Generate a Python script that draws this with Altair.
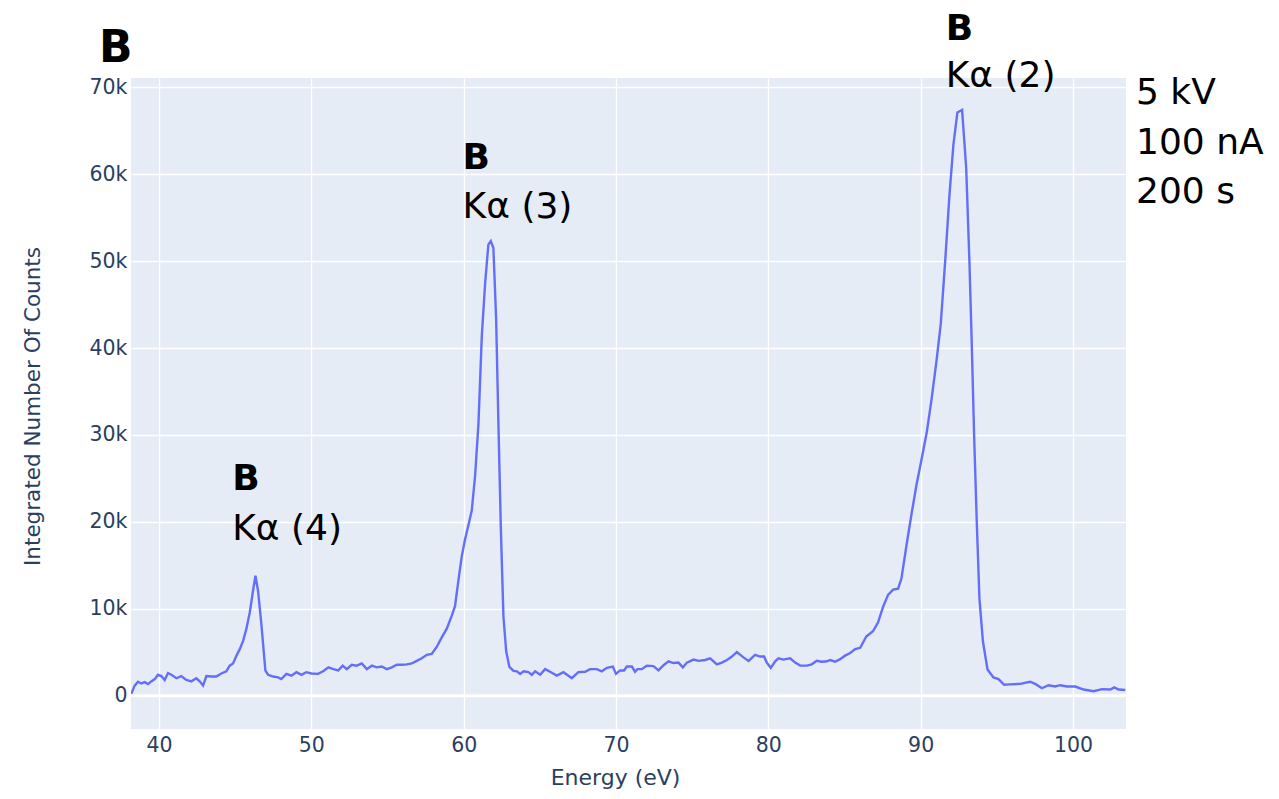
import altair as alt
import pandas as pd

# ---- spectrum values ----
energy = [
    38.18, 38.40, 38.62, 38.84, 39.06, 39.28, 39.49, 39.72, 39.93, 40.15,
    40.37, 40.59, 40.81, 41.14, 41.46, 41.79, 42.12, 42.45, 42.67, 42.89,
    43.11, 43.43, 43.76, 44.09, 44.42, 44.64, 44.86, 45.08, 45.30, 45.52,
    45.73, 45.96, 46.17, 46.33, 46.50, 46.72, 46.98, 47.16, 47.49, 47.82,
    48.03, 48.36, 48.69, 49.02, 49.35, 49.67, 50.00, 50.44, 50.77, 51.12,
    51.44, 51.77, 52.06, 52.32, 52.65, 52.98, 53.31, 53.64, 53.97, 54.29,
    54.62, 54.95, 55.28, 55.61, 55.94, 56.26, 56.59, 56.92, 57.25, 57.58,
    57.90, 58.23, 58.56, 58.89, 59.22, 59.43, 59.65, 59.87, 60.09, 60.31,
    60.53, 60.75, 60.97, 61.19, 61.41, 61.62, 61.78, 61.95, 62.13, 62.28,
    62.44, 62.61, 62.79, 63.00, 63.27, 63.49, 63.71, 63.93, 64.25, 64.47,
    64.69, 65.02, 65.35, 65.67, 66.11, 66.55, 67.10, 67.53, 67.97, 68.30,
    68.74, 69.07, 69.40, 69.79, 70.00, 70.27, 70.53, 70.71, 71.04, 71.25,
    71.41, 71.69, 72.02, 72.46, 72.79, 73.12, 73.45, 73.77, 74.10, 74.39,
    74.65, 75.09, 75.42, 75.85, 76.18, 76.62, 76.95, 77.28, 77.61, 77.93,
    78.37, 78.70, 79.13, 79.46, 79.72, 79.90, 80.16, 80.45, 80.66, 80.99,
    81.43, 81.76, 82.09, 82.53, 82.85, 83.18, 83.51, 83.84, 84.06, 84.38,
    84.71, 85.04, 85.37, 85.70, 86.03, 86.43, 86.87, 87.20, 87.53, 87.86,
    88.19, 88.52, 88.74, 89.07, 89.40, 89.73, 90.06, 90.40, 90.73, 91.06,
    91.32, 91.61, 91.89, 92.15, 92.41, 92.72, 92.99, 93.20, 93.36, 93.51,
    93.69, 93.86, 94.09, 94.39, 94.78, 95.11, 95.48, 95.83, 96.53, 97.19,
    97.52, 97.96, 98.39, 98.83, 99.16, 99.60, 100.15, 100.70, 101.35, 101.90,
    102.45, 102.71, 102.99, 103.43,
]
counts = [
    200, 1150, 1600, 1400, 1550, 1330, 1640, 1900, 2400, 2250,
    1800, 2600, 2400, 2000, 2250, 1800, 1640, 2000, 1640, 1150,
    2250, 2200, 2200, 2550, 2800, 3450, 3700, 4600, 5350, 6300,
    7650, 9600, 12070, 13800, 12070, 8200, 2900, 2400, 2200, 2100,
    1900, 2500, 2300, 2700, 2400, 2700, 2550, 2500, 2800, 3250,
    3050, 2900, 3450, 3050, 3550, 3450, 3700, 3050, 3450, 3250,
    3350, 3050, 3250, 3550, 3550, 3600, 3700, 4000, 4300, 4700,
    4800, 5600, 6700, 7700, 9200, 10300, 13200, 16000, 18000, 19600,
    21300, 25300, 31300, 41400, 47500, 51900, 52300, 51500, 43400, 31300,
    19200, 9100, 5100, 3300, 2850, 2800, 2500, 2800, 2700, 2400,
    2800, 2400, 3050, 2750, 2300, 2700, 2000, 2700, 2750, 3050,
    3050, 2800, 3200, 3350, 2500, 2900, 2900, 3350, 3350, 2750,
    3050, 3050, 3450, 3400, 2900, 3500, 3950, 3750, 3800, 3250,
    3800, 4150, 4000, 4100, 4300, 3600, 3800, 4100, 4500, 5000,
    4400, 4000, 4700, 4500, 4500, 3800, 3200, 3950, 4300, 4150,
    4300, 3800, 3450, 3450, 3600, 4000, 3900, 3950, 4100, 3900,
    4200, 4600, 4900, 5350, 5500, 6800, 7400, 8400, 10200, 11600,
    12200, 12300, 13500, 17300, 20900, 24300, 27200, 30300, 34300, 38800,
    42800, 50000, 57600, 63400, 67100, 67400, 60700, 50000, 40100, 29900,
    19600, 11100, 6200, 3000, 2100, 1900, 1250, 1300, 1350, 1600,
    1350, 850, 1200, 1050, 1200, 1050, 1050, 700, 500, 750,
    700, 950, 700, 650,
]

x_ticks = [40, 50, 60, 70, 80, 90, 100]
y_ticks = [0, 10000, 20000, 30000, 40000, 50000, 60000, 70000]

peak_element = ["B", "B", "B"]
peak_line = ["Kα (4)", "Kα (3)", "Kα (2)"]
conditions = ["5 kV", "100 nA", "200 s"]
panel_label = "B"

# ---- annotation anchors (data units) ----
ann_x = [44.8, 59.93, 91.64]
ann_y_element = [23700, 60600, 75500]
ann_y_line = [17900, 55000, 70000]

FONT = "DejaVu Sans"
AXC = "#2a3f5f"

df = pd.DataFrame({"energy": energy, "counts": counts})
ann_df = pd.DataFrame({
    "x": ann_x, "ye": ann_y_element, "yl": ann_y_line,
    "element": peak_element, "line": peak_line,
})

xscale = alt.Scale(domain=[38.16, 103.48], nice=False, zero=False)
yscale = alt.Scale(domain=[-3840, 71070], nice=False, zero=False)

x_axis = alt.Axis(
    values=x_ticks, title="Energy (eV)", labelFontSize=20.5, titleFontSize=22,
    labelPadding=6, titleX=484, titleY=55, titleBaseline="alphabetic",
    titleAnchor="start", titleAlign="center",
)
y_axis = alt.Axis(
    values=y_ticks, title="Integrated Number Of Counts",
    labelExpr="datum.value === 0 ? '0' : (datum.value / 1000) + 'k'",
    labelFontSize=20.5, titleFontSize=21.5, labelPadding=4,
    titleX=-98, titleY=328, titleAngle=270, titleAlign="center",
    titleBaseline="middle", titleAnchor="start",
)

zero_rule = alt.Chart(pd.DataFrame({"y": [0]})).mark_rule(
    color="white", strokeWidth=2.8
).encode(y=alt.Y("y:Q", scale=yscale, axis=y_axis))

line = alt.Chart(df).mark_line(color="#636efa", strokeWidth=2.4, clip=True).encode(
    x=alt.X("energy:Q", scale=xscale, axis=x_axis),
    y=alt.Y("counts:Q", scale=yscale, axis=y_axis),
)

elem_text = alt.Chart(ann_df).mark_text(
    font=FONT, fontSize=36, fontWeight="bold", align="left",
    baseline="alphabetic", color="black", clip=False,
).encode(
    x=alt.X("x:Q", scale=xscale), y=alt.Y("ye:Q", scale=yscale), text="element:N"
)

line_text = alt.Chart(ann_df).mark_text(
    font=FONT, fontSize=36, align="left", baseline="alphabetic",
    color="black", clip=False,
).encode(
    x=alt.X("x:Q", scale=xscale), y=alt.Y("yl:Q", scale=yscale), text="line:N"
)

cond_text = alt.Chart(pd.DataFrame({"t": ["x"]})).mark_text(
    font=FONT, fontSize=36, align="left", baseline="alphabetic",
    color="black", text=conditions, lineHeight=49.5,
).encode(x=alt.value(1005), y=alt.value(26))

panel_text = alt.Chart(pd.DataFrame({"t": [panel_label]})).mark_text(
    font=FONT, fontSize=44, fontWeight="bold", align="left",
    baseline="alphabetic", color="black",
).encode(x=alt.value(-32), y=alt.value(-16), text="t:N")

chart = alt.layer(zero_rule, line, elem_text, line_text, cond_text, panel_text).properties(
    width=995, height=651,
    background="white",
    autosize=alt.AutoSizeParams(type="none"),
    padding={"left": 123, "top": 70, "right": 145, "bottom": 60},
).configure_view(
    fill="#e5ecf6", stroke=None,
).configure_axis(
    domain=False, ticks=False, grid=True, gridColor="white", gridWidth=1.3,
    labelColor=AXC, titleColor=AXC, labelFont=FONT, titleFont=FONT,
    titleFontWeight="normal",
)

chart.save("out.html", embed_options={"renderer": "svg", "actions": False})
